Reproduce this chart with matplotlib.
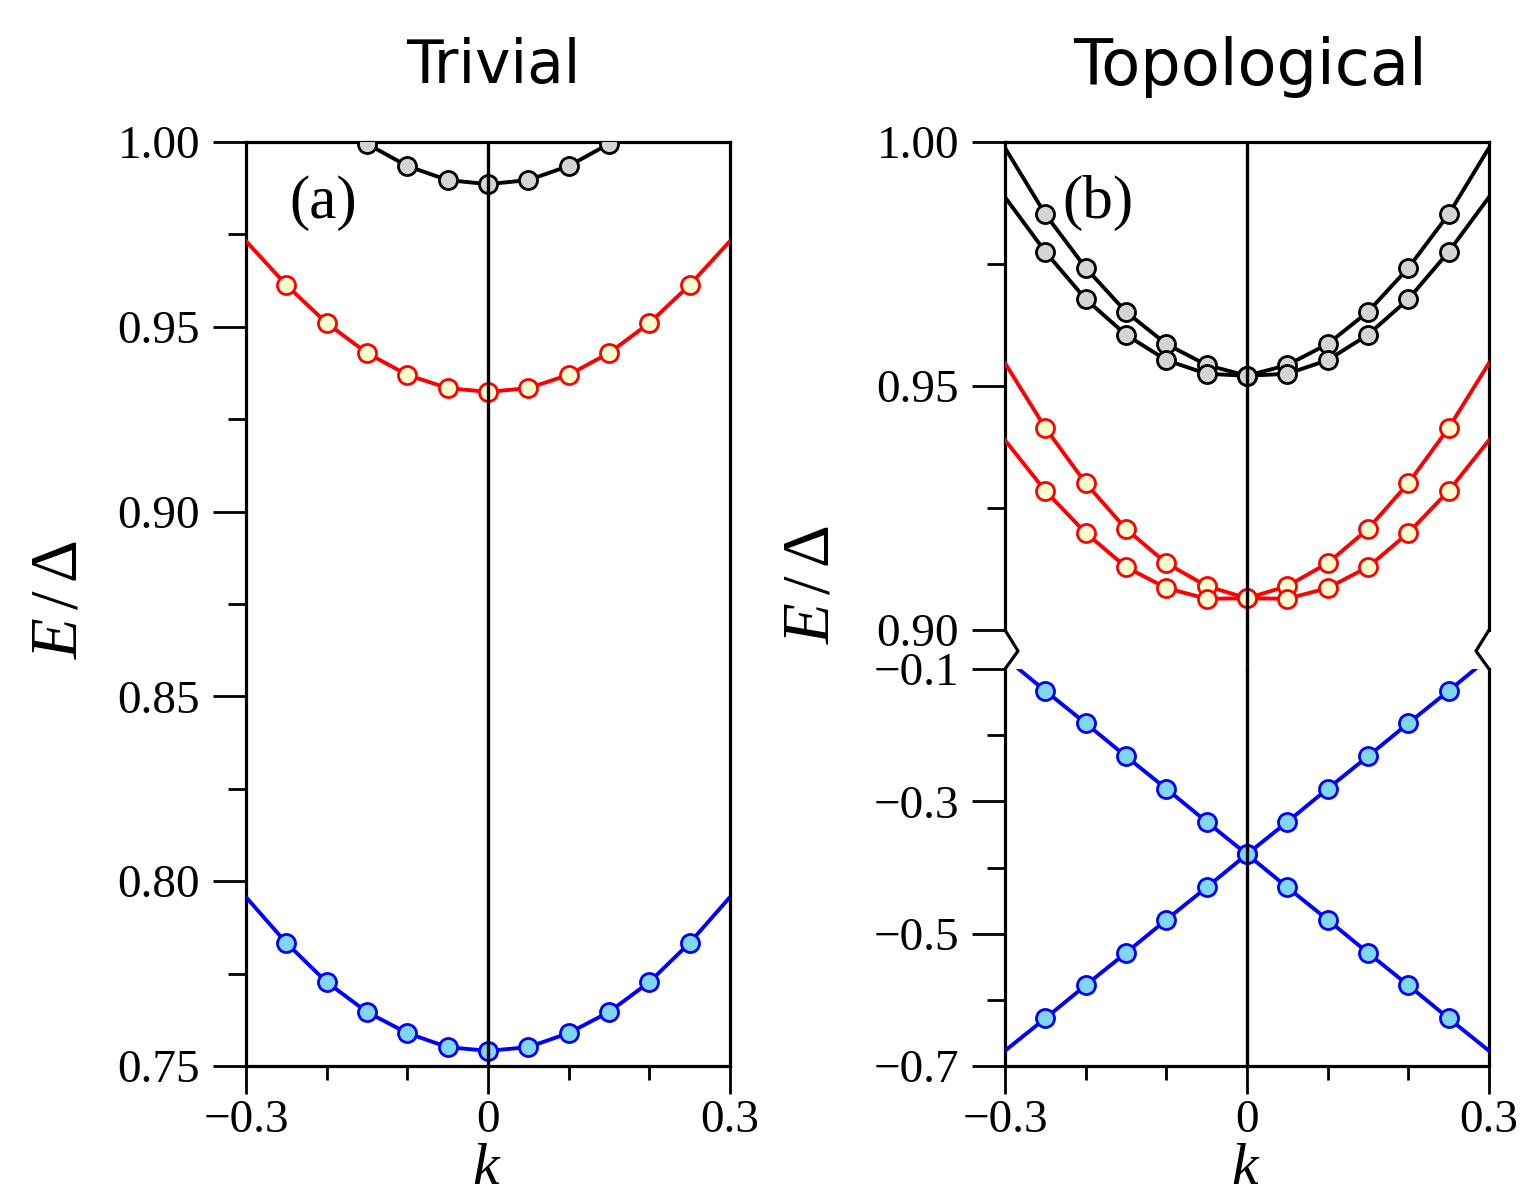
import numpy as np
import matplotlib
matplotlib.use("Agg")
import matplotlib.pyplot as plt
import matplotlib.transforms as mt
from matplotlib.lines import Line2D
from matplotlib.ticker import MultipleLocator, FixedLocator, FixedFormatter, FuncFormatter

plt.rcParams.update({"font.family": "Liberation Serif", "mathtext.fontset": "custom",
                     "mathtext.rm": "Liberation Serif", "mathtext.it": "Liberation Serif:italic",
                     "axes.linewidth": 2.3})

K = [-0.3, -0.25, -0.2, -0.15, -0.1, -0.05, 0.0, 0.05, 0.1, 0.15, 0.2, 0.25, 0.3]
X_TICKS = [-0.3, 0.0, 0.3]
X_LABELS = ["\u22120.3", "0", "0.3"]
YB_TICKS = [-0.7, -0.5, -0.3, -0.1]
YB_MINOR = [-0.6, -0.4, -0.2]

# (a) trivial
A_BLACK = [1.032, 1.019, 1.008, 0.9995, 0.9935, 0.9897, 0.9886, 0.9897, 0.9935, 0.9995, 1.008, 1.019, 1.032]
A_RED = [0.9732, 0.9613, 0.9510, 0.9429, 0.9370, 0.9334, 0.9324, 0.9334, 0.9370, 0.9429, 0.9510, 0.9613, 0.9732]
A_BLUE = [0.7957, 0.7833, 0.7727, 0.7646, 0.7589, 0.7551, 0.7541, 0.7551, 0.7589, 0.7646, 0.7727, 0.7833, 0.7957]

# (b) topological, upper window
B_BLACK1 = [0.9988, 0.9852, 0.9742, 0.9652, 0.9586, 0.9543, 0.9521, 0.9543, 0.9586, 0.9652, 0.9742, 0.9852, 0.9988]
B_BLACK2 = [0.9887, 0.9775, 0.9678, 0.9605, 0.9553, 0.9525, 0.9521, 0.9525, 0.9553, 0.9605, 0.9678, 0.9775, 0.9887]
B_RED1 = [0.9547, 0.9414, 0.9301, 0.9207, 0.9137, 0.9090, 0.9065, 0.9090, 0.9137, 0.9207, 0.9301, 0.9414, 0.9547]
B_RED2 = [0.9389, 0.9285, 0.9199, 0.9129, 0.9086, 0.9064, 0.9065, 0.9064, 0.9086, 0.9129, 0.9199, 0.9285, 0.9389]
# (b) lower window
B_BLUE1 = [-0.677, -0.628, -0.578, -0.529, -0.479, -0.430, -0.380, -0.331, -0.281, -0.232, -0.182, -0.133, -0.083]
B_BLUE2 = [-0.083, -0.133, -0.182, -0.232, -0.281, -0.331, -0.380, -0.430, -0.479, -0.529, -0.578, -0.628, -0.677]

BLACK, RED, BLUE = "#000000", "#ff0000", "#0000ff"
F_BLACK, F_RED, F_BLUE = "#d4d4d4", "#ffffd0", "#7fd6ee"

W, H = 1527, 1198
fig = plt.figure(figsize=(W / 100, H / 100), dpi=100)

def rect(x0, x1, ytop, ybot):
    return [x0 / W, 1 - ybot / H, (x1 - x0) / W, (ybot - ytop) / H]

axa = fig.add_axes(rect(246, 730, 142, 1066))
axb1 = fig.add_axes(rect(1005, 1489, 142, 630))
axb2 = fig.add_axes(rect(1005, 1489, 669, 1066))

def band(ax, y, c, fc):
    ax.plot(K, y, color=c, lw=2.8, marker="o", ms=13, mfc=fc, mec=c, mew=2.0,
            markevery=slice(1, -1), zorder=3)

band(axa, A_BLACK, BLACK, F_BLACK)
band(axa, A_RED, RED, F_RED)
band(axa, A_BLUE, BLUE, F_BLUE)
for y, c, fc in [(B_BLACK1, BLACK, F_BLACK), (B_BLACK2, BLACK, F_BLACK),
                 (B_RED1, RED, F_RED), (B_RED2, RED, F_RED)]:
    band(axb1, y, c, fc)
band(axb2, B_BLUE1, BLUE, F_BLUE)
band(axb2, B_BLUE2, BLUE, F_BLUE)

minus = lambda fmt: FuncFormatter(lambda v, p: (fmt % v).replace("-", "\u2212"))

for ax in (axa, axb1, axb2):
    ax.set_xlim(-0.3, 0.3)
    ax.axvline(0, color="k", lw=2.4, zorder=5)
    ax.tick_params(axis="y", which="major", direction="out", length=24, width=2.0,
                   labelsize=34, pad=9)
    ax.tick_params(axis="y", which="minor", direction="out", length=13, width=2.0)
    ax.tick_params(axis="x", which="major", direction="out", length=20, width=2.0,
                   labelsize=34, pad=4)
    ax.tick_params(axis="x", which="minor", direction="out", length=10, width=2.0)

for ax in (axa, axb2):
    ax.xaxis.set_major_locator(FixedLocator(X_TICKS))
    ax.xaxis.set_major_formatter(FixedFormatter(X_LABELS))
    ax.xaxis.set_minor_locator(MultipleLocator(0.1))

axa.set_ylim(0.75, 1.0)
axa.yaxis.set_major_locator(MultipleLocator(0.05))
axa.yaxis.set_minor_locator(MultipleLocator(0.025))
axa.yaxis.set_major_formatter(minus("%.2f"))

axb1.set_ylim(0.90, 1.0)
axb1.yaxis.set_major_locator(MultipleLocator(0.05))
axb1.yaxis.set_minor_locator(MultipleLocator(0.025))
axb1.yaxis.set_major_formatter(minus("%.2f"))
axb1.set_xticks([])
axb1.spines["bottom"].set_visible(False)

axb2.set_ylim(-0.7, -0.1)
axb2.yaxis.set_major_locator(FixedLocator(YB_TICKS))
axb2.yaxis.set_minor_locator(FixedLocator(YB_MINOR))
axb2.yaxis.set_major_formatter(minus("%.1f"))
axb2.spines["top"].set_visible(False)

# axis break marks and zero line through the gap
yt, ym, yb = 1 - 630 / H, 1 - 651 / H, 1 - 669 / H
xl, xr, d = 1005 / W, 1489 / W, 13 / W
for xs in ([xl, xl + d, xl], [xr, xr - d, xr]):
    fig.add_artist(Line2D(xs, [yt, ym, yb], color="k", lw=2.3))
tr = mt.blended_transform_factory(axb1.transData, fig.transFigure)
fig.add_artist(Line2D([0, 0], [yb, yt], color="k", lw=2.4, transform=tr))

axa.text(0.159, 0.934, "(a)", transform=axa.transAxes, fontsize=44, ha="center", va="center")
axb1.text(0.192, 0.875, "(b)", transform=axb1.transAxes, fontsize=44, ha="center", va="center")

fig.text(60 / W, 1 - 600 / H, r"$E\,/\,\Delta$", rotation=90, fontsize=48, ha="center", va="center")
fig.text(812 / W, 1 - 585 / H, r"$E\,/\,\Delta$", rotation=90, fontsize=48, ha="center", va="center")
fig.text(487 / W, 1 / H, r"$k$", fontsize=43, ha="center", va="bottom")
fig.text(1246 / W, 1 / H, r"$k$", fontsize=43, ha="center", va="bottom")

fig.text(493 / W, 1 - 67 / H, "Trivial", family="DejaVu Sans", fontsize=43, ha="center", va="center")
fig.text(1250 / W, 1 - 67 / H, "Topological", family="DejaVu Sans", fontsize=46, ha="center", va="center")

fig.savefig("out.png", dpi=100)
